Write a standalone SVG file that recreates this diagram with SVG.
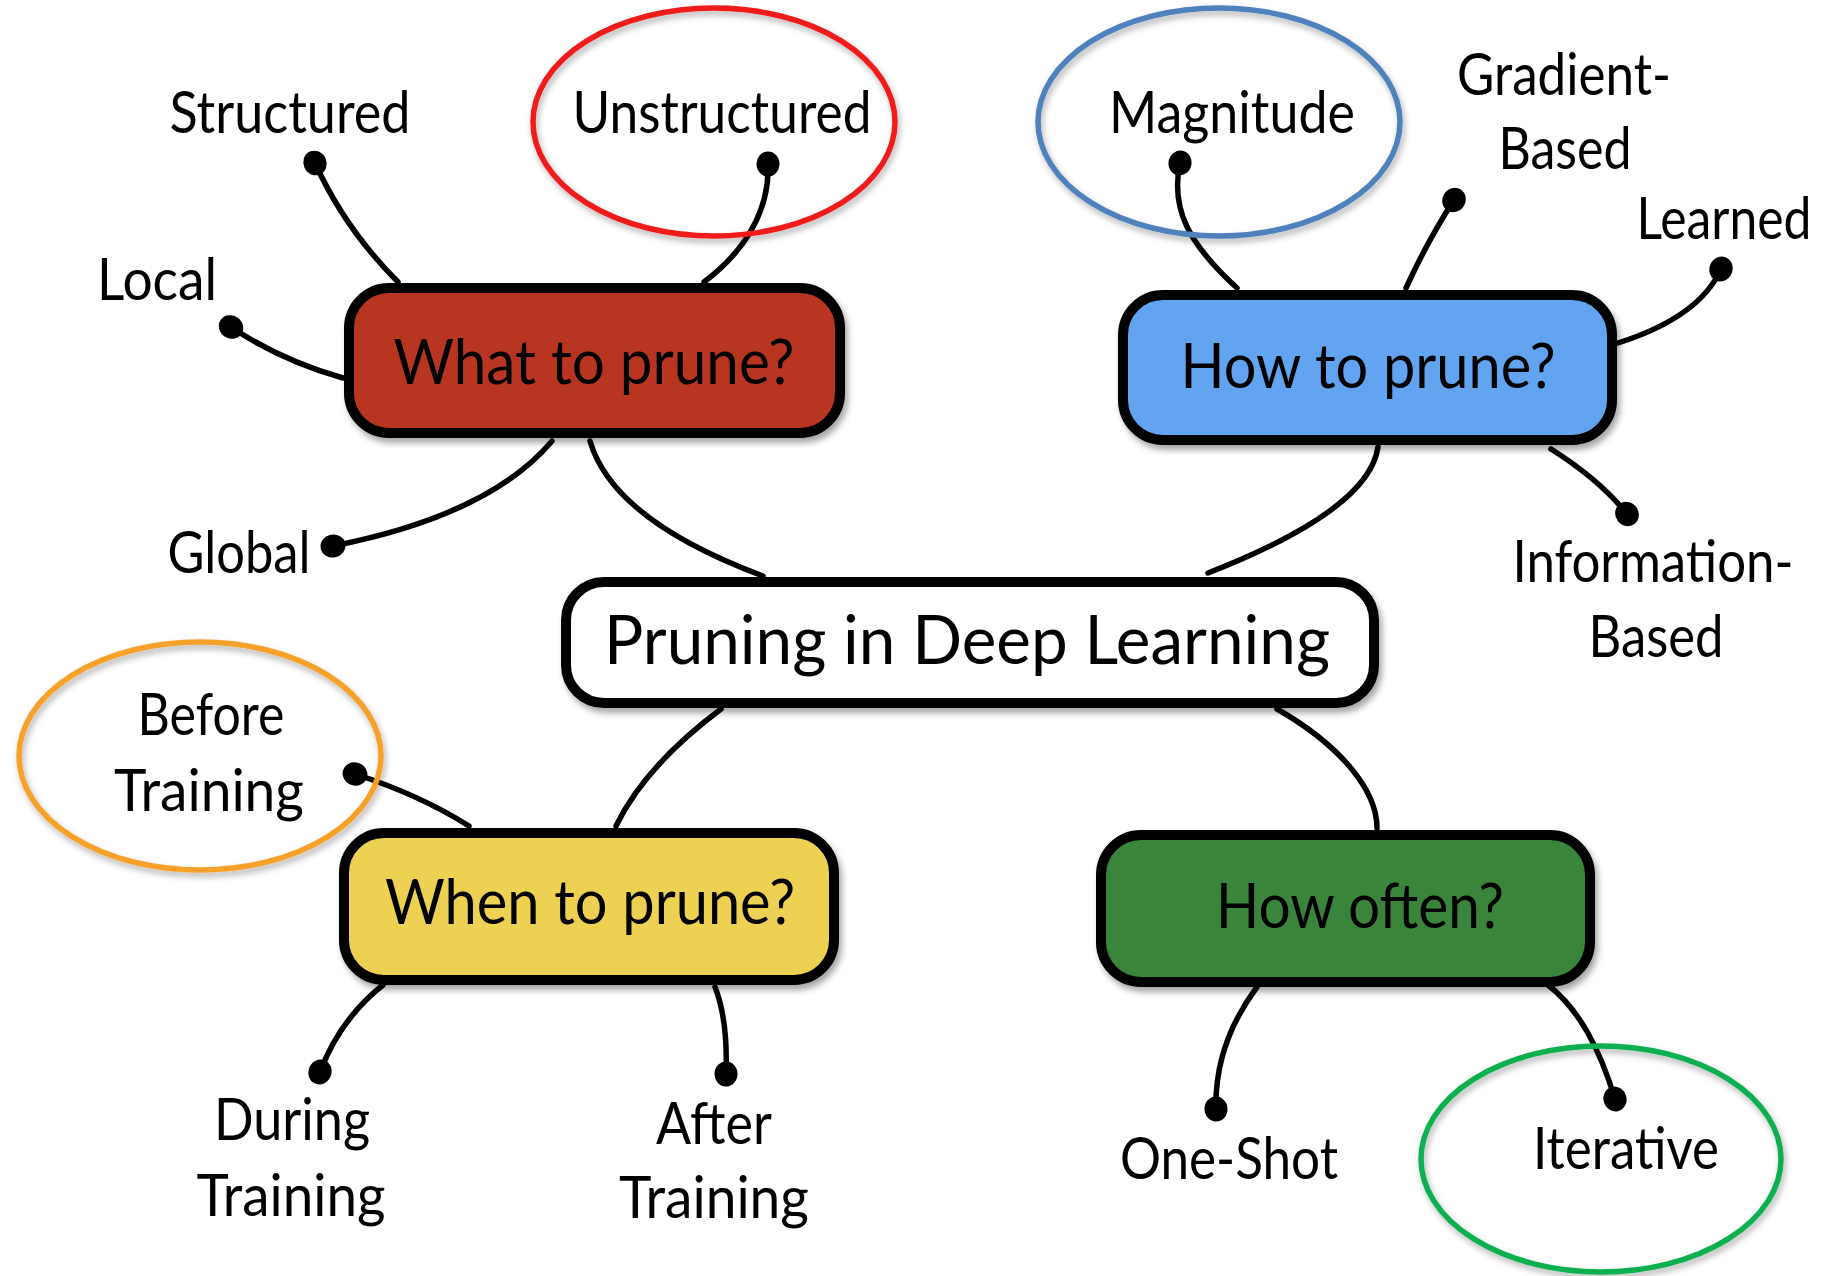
<svg xmlns="http://www.w3.org/2000/svg" width="1842" height="1276" viewBox="0 0 1842 1276">
<defs>
<style>
.lbl{font-family:Lato,"Noto Sans","Liberation Sans",sans-serif;font-size:59px;fill:#000;text-anchor:middle}
.btxt{font-family:Lato,"Noto Sans","Liberation Sans",sans-serif;font-size:62px;fill:#000;text-anchor:middle}
.ctxt{font-family:Lato,"Noto Sans","Liberation Sans",sans-serif;font-size:68px;fill:#000;text-anchor:middle}
.box{stroke:#000;stroke-width:10;filter:url(#sh)}
.ring{fill:none;stroke-width:5.5;filter:url(#sh2)}
.conn{fill:none;stroke:#000;stroke-width:5.5;stroke-linecap:round}
.leaf{marker-start:url(#dot)}
</style>
<filter id="sh" x="-10%" y="-20%" width="120%" height="150%">
<feDropShadow dx="3" dy="5" stdDeviation="3" flood-color="#000" flood-opacity="0.35"/>
</filter>
<filter id="sh2" x="-10%" y="-10%" width="120%" height="130%">
<feDropShadow dx="2" dy="4" stdDeviation="3" flood-color="#000" flood-opacity="0.3"/>
</filter>
<marker id="dot" viewBox="-13 -13 26 26" refX="0" refY="0" markerWidth="26" markerHeight="26" markerUnits="userSpaceOnUse" orient="auto">
<ellipse cx="0" cy="0" rx="12.5" ry="11.5" fill="#000"/>
</marker>
</defs>
<rect x="0" y="0" width="1842" height="1276" fill="#fff"/>

<g id="connectors">
<path class="conn" d="M 590 441 Q 613 520 763 576"/>
<path class="conn" d="M 1378 447 Q 1369 510 1208 573"/>
<path class="conn" d="M 721 709 Q 645 766 616 826"/>
<path class="conn" d="M 1277 709 C 1340 745 1377 790 1377 828"/>
<path class="conn leaf" d="M 315 163 Q 345 229 398 282"/>
<path class="conn leaf" d="M 768 164 C 770 215 740 255 704 282"/>
<path class="conn leaf" d="M 231 327 Q 280 360 343 378"/>
<path class="conn leaf" d="M 333 546 Q 490 515 552 441"/>
<path class="conn leaf" d="M 1180 163 C 1170 210 1190 245 1237 288"/>
<path class="conn leaf" d="M 1454 200 Q 1428 240 1406 288"/>
<path class="conn leaf" d="M 1721 269 C 1705 305 1665 328 1618 343"/>
<path class="conn leaf" d="M 1627 514 Q 1600 480 1551 449"/>
<path class="conn leaf" d="M 355 774 Q 420 795 469 826"/>
<path class="conn leaf" d="M 320 1072 Q 340 1019 383 985"/>
<path class="conn leaf" d="M 726 1074 Q 728 1020 715 987"/>
<path class="conn leaf" d="M 1216 1109 C 1215 1070 1225 1030 1257 987"/>
<path class="conn leaf" d="M 1615 1099 C 1600 1050 1580 1010 1548 985"/>
</g>

<g id="center">
<rect class="box" x="566" y="582" width="808" height="121" rx="38" fill="#fff"/>
<text class="ctxt" x="967" y="664" textLength="726" lengthAdjust="spacingAndGlyphs">Pruning in Deep Learning</text>
</g>
<g id="what">
<rect class="box" x="349" y="288" width="491" height="145" rx="40" fill="#B83420"/>
<text class="btxt" x="594" y="384" textLength="401" lengthAdjust="spacingAndGlyphs">What to prune?</text>
</g>
<g id="how">
<rect class="box" x="1123" y="295" width="489" height="145" rx="40" fill="#64A4F0"/>
<text class="btxt" x="1368" y="388" textLength="375" lengthAdjust="spacingAndGlyphs">How to prune?</text>
</g>
<g id="when">
<rect class="box" x="344" y="833" width="490" height="147" rx="40" fill="#EDD152"/>
<text class="btxt" x="590" y="924" textLength="410" lengthAdjust="spacingAndGlyphs">When to prune?</text>
</g>
<g id="often">
<rect class="box" x="1101" y="835" width="489" height="147" rx="40" fill="#3A843A"/>
<text class="btxt" x="1360" y="928" textLength="288" lengthAdjust="spacingAndGlyphs">How often?</text>
</g>

<g id="structured"><text class="lbl" x="290" y="133" textLength="241" lengthAdjust="spacingAndGlyphs">Structured</text></g>
<g id="unstructured">
<ellipse class="ring" cx="714" cy="122" rx="181" ry="114" stroke="#F01C1C"/>
<text class="lbl" x="722" y="133" textLength="299" lengthAdjust="spacingAndGlyphs">Unstructured</text>
</g>
<g id="local"><text class="lbl" x="157" y="300" textLength="120" lengthAdjust="spacingAndGlyphs">Local</text></g>
<g id="global"><text class="lbl" x="239" y="573" textLength="143" lengthAdjust="spacingAndGlyphs">Global</text></g>
<g id="magnitude">
<ellipse class="ring" cx="1219" cy="122" rx="181" ry="114" stroke="#4F81BD"/>
<text class="lbl" x="1232" y="133" textLength="246" lengthAdjust="spacingAndGlyphs">Magnitude</text>
</g>
<g id="gradient">
<text class="lbl" x="1564" y="95" textLength="214" lengthAdjust="spacingAndGlyphs">Gradient-</text>
<text class="lbl" x="1565" y="169" textLength="133" lengthAdjust="spacingAndGlyphs">Based</text>
</g>
<g id="learned"><text class="lbl" x="1724" y="239" textLength="175" lengthAdjust="spacingAndGlyphs">Learned</text></g>
<g id="information">
<text class="lbl" x="1653" y="582" textLength="281" lengthAdjust="spacingAndGlyphs">Information-</text>
<text class="lbl" x="1656" y="657" textLength="135" lengthAdjust="spacingAndGlyphs">Based</text>
</g>
<g id="before">
<ellipse class="ring" cx="200" cy="756" rx="181" ry="114" stroke="#F5A12A"/>
<text class="lbl" x="211" y="735" textLength="147" lengthAdjust="spacingAndGlyphs">Before</text>
<text class="lbl" x="209" y="811" textLength="190" lengthAdjust="spacingAndGlyphs">Training</text>
</g>
<g id="during">
<text class="lbl" x="292" y="1140" textLength="156" lengthAdjust="spacingAndGlyphs">During</text>
<text class="lbl" x="291" y="1216" textLength="189" lengthAdjust="spacingAndGlyphs">Training</text>
</g>
<g id="after">
<text class="lbl" x="714" y="1144" textLength="116" lengthAdjust="spacingAndGlyphs">After</text>
<text class="lbl" x="714" y="1218" textLength="190" lengthAdjust="spacingAndGlyphs">Training</text>
</g>
<g id="oneshot"><text class="lbl" x="1229" y="1179" textLength="218" lengthAdjust="spacingAndGlyphs">One-Shot</text></g>
<g id="iterative">
<ellipse class="ring" cx="1601" cy="1159" rx="180" ry="113" stroke="#0DAF50"/>
<text class="lbl" x="1626" y="1169" textLength="186" lengthAdjust="spacingAndGlyphs">Iterative</text>
</g>
</svg>
